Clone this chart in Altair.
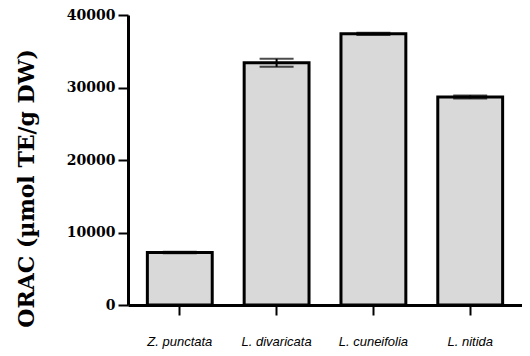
import altair as alt
import pandas as pd

species = ["Z. punctata", "L. divaricata", "L. cuneifolia", "L. nitida"]
orac = [7250, 33400, 37400, 28700]
err = [100, 550, 150, 200]
y_ticks = [0, 10000, 20000, 30000, 40000]

df = pd.DataFrame({"species": species, "orac": orac, "err": err})
df["lo"] = df["orac"] - df["err"]
df["hi"] = df["orac"] + df["err"]

x_axis = alt.Axis(
    title=None, labelAngle=0, labelFont="Liberation Sans", labelFontStyle="italic",
    labelFontSize=13, labelColor="black", labelPadding=20, tickSize=10, tickWidth=2,
    tickColor="black", domainWidth=3, domainColor="black", grid=False,
)
y_axis = alt.Axis(
    values=y_ticks, format="d", grid=False,
    labelFont="DejaVu Serif", labelFontWeight="bold", labelFontSize=14, labelColor="black",
    labelPadding=3, tickSize=10, tickWidth=2, tickColor="black",
    domainWidth=3, domainColor="black",
    title="ORAC (µmol TE/g DW)", titleFont="DejaVu Serif", titleFontWeight="bold",
    titleFontSize=22, titleColor="black", titleAngle=-90, titleX=-102, titleY=173,
    titleAlign="center", titleBaseline="middle",
)

xenc = alt.X("species:N", sort=species,
             scale=alt.Scale(paddingInner=0.33, paddingOuter=0.2), axis=x_axis)
yscale = alt.Scale(domain=[0, 40000], nice=False)

bars = alt.Chart(df).mark_bar(fill="#d9d9d9", stroke="black", strokeWidth=3).encode(
    x=xenc, y=alt.Y("orac:Q", scale=yscale, axis=y_axis)
)
stems = alt.Chart(df).mark_rule(color="black", strokeWidth=2).encode(
    x=alt.X("species:N", sort=species), y=alt.Y("lo:Q", scale=yscale), y2="hi:Q"
)
caps_hi = alt.Chart(df).mark_tick(color="black", thickness=2, size=34).encode(
    x=alt.X("species:N", sort=species), y=alt.Y("hi:Q", scale=yscale)
)
caps_lo = alt.Chart(df).mark_tick(color="black", thickness=2, size=34).encode(
    x=alt.X("species:N", sort=species), y=alt.Y("lo:Q", scale=yscale)
)

chart = alt.layer(bars, stems, caps_hi, caps_lo).properties(
    width=394, height=290,
    autosize=alt.AutoSizeParams(type="none"),
    padding={"left": 120, "top": 7, "right": 0, "bottom": 50},
    background="white",
).configure_view(stroke=None)

chart.save("out.html", embed_options={"renderer": "svg", "actions": False})
